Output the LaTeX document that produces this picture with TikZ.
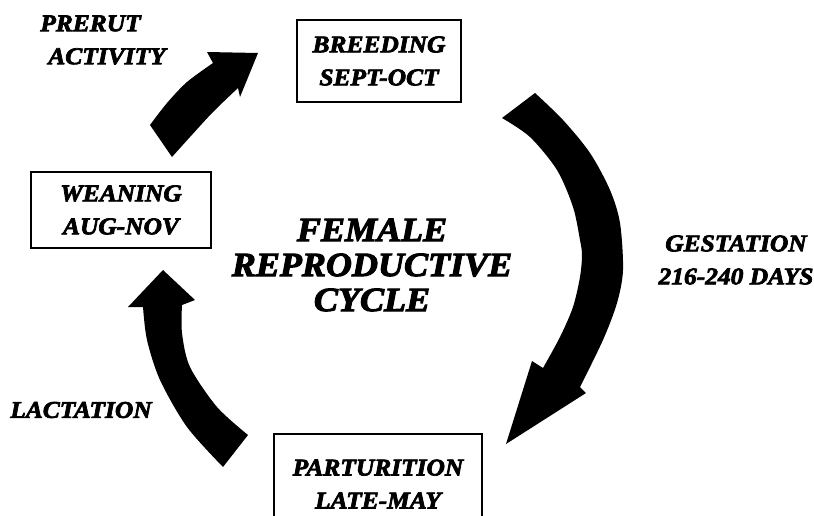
\documentclass[tikz,border=0pt]{standalone}
\usepackage{fontspec}
\setmainfont{Liberation Serif}[BoldItalicFeatures={FakeBold=3,FakeStretch=1.06}]
\begin{document}
\begin{tikzpicture}[x=1pt,y=-1pt,
  lbl/.style={font=\fontsize{24}{33}\selectfont\bfseries\itshape, align=center, inner sep=0pt},
  box/.style={lbl, draw, line width=2pt},
  big/.style={font=\fontsize{34}{35}\selectfont\bfseries\itshape, align=center, inner sep=0pt},
  blk/.style={fill=black}]
\useasboundingbox[fill=white] (0,0) rectangle (814,515);
\begin{scope}
\clip (0,0) rectangle (814,515);
% boxes
\node[box, minimum width=164pt, minimum height=82pt] (breed) at (379,61) {BREEDING\\SEPT-OCT};
\node[box, minimum width=180pt, minimum height=76pt] (wean) at (121,210) {WEANING\\AUG-NOV};
\node[box, minimum width=208pt, minimum height=100pt, anchor=north] (part) at (378,433) {PARTURITION\\LATE-MAY};
% labels
\node[lbl, align=left] (prerut) at (103,40) {PRERUT\\\hspace*{8pt}ACTIVITY};
\node[lbl] (gest) at (736,260) {GESTATION\\216-240 DAYS};
\node[lbl] (lact) at (81,410) {LACTATION};
\node[big] (title) at (372,265) {FEMALE\\REPRODUCTIVE\\CYCLE};
% arrow: weaning -> breeding
\fill[blk] plot[smooth] coordinates {(150,125) (167,103) (187,82) (213,63)}
  -- (207,52) -- (258,53) -- (240,97)
  -- plot[smooth] coordinates {(238,88) (213,112) (190,137) (172,157)} -- cycle;
% arrow: breeding -> parturition
\fill[blk] plot[smooth] coordinates {(535,93) (563,120) (590,153) (610,190) (620,223) (623,270) (617,303) (603,340) (580,387)}
  -- (586,393) -- (506,444) -- (532,361)
  -- plot[smooth] coordinates {(543,368) (560,337) (573,307) (580,277) (582,255) (580,240) (573,207) (557,170) (530,137) (502,118)} -- cycle;
% arrow: parturition -> weaning
\fill[blk] plot[smooth] coordinates {(223,467) (187,427) (160,380) (147,340) (143,307)}
  -- (128,307) -- (163,270) -- (195,300)
  -- plot[smooth] coordinates {(182,305) (182,333) (190,367) (217,407) (248,435)} -- cycle;
\end{scope}
\end{tikzpicture}
\end{document}
